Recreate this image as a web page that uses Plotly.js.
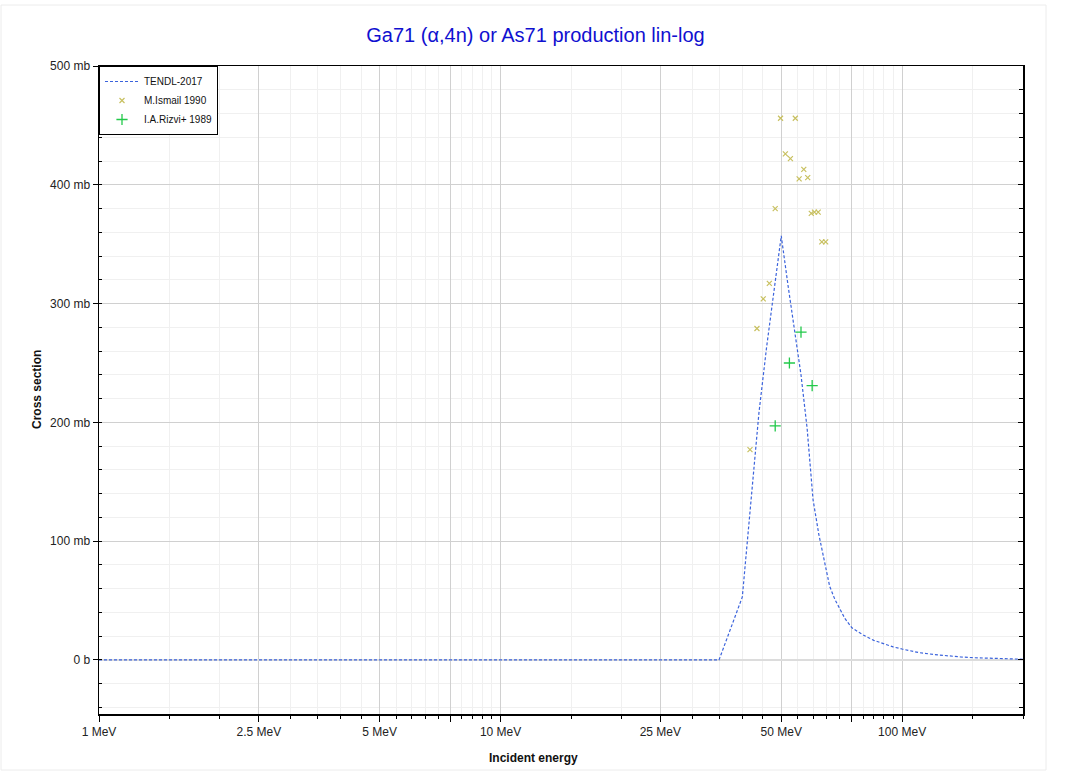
<!DOCTYPE html>
<html>
<head>
<meta charset="utf-8">
<script src="https://cdn.plot.ly/plotly-3.0.1.min.js"></script>
<style>
html,body{margin:0;padding:0;background:#fff;}
#chart{width:1071px;height:774px;}
</style>
</head>
<body>
<div id="chart"></div>
<script>
// ---- data ----
const tendlEnergy = [1, 5, 10, 20, 30, 35, 40, 42, 44, 46, 48, 50, 52, 54, 56, 58, 60, 62, 64, 66, 68, 70, 72, 75, 80, 85, 90, 95, 100, 110, 120, 130, 140, 150, 175, 200];
const tendlXS     = [0, 0, 0, 0, 0, 0, 53, 134, 208, 264, 313, 357, 315, 278, 240, 195, 135, 106, 82, 62, 51, 43, 35, 27, 21, 16.5, 13.5, 11, 9.2, 6.2, 4.6, 3.2, 2.5, 1.9, 1.2, 0.6];

const ismailEnergy = [41.8, 43.5, 45.1, 46.7, 48.3, 49.8, 51.2, 52.7, 54.2, 55.4, 56.9, 58.2, 59.4, 60.5, 61.8, 63.1, 64.5];
const ismailXS     = [177, 279, 304, 317, 380, 456, 426, 422, 456, 405, 413, 406, 376, 377, 377, 352, 352];

const rizviEnergy = [48.3, 52.4, 56.0, 59.7];
const rizviXS     = [197, 250, 276, 231];

const xMajorVals  = [1, 2.5, 5, 7.5, 10, 25, 50, 75, 100];
const xMajorText  = ['1 MeV', '2.5 MeV', '5 MeV', '', '10 MeV', '25 MeV', '50 MeV', '', '100 MeV'];
const xMinorMult  = [1.5, 2, 3, 3.5, 4, 4.5, 5.5, 6, 6.5, 7, 8, 8.5, 9, 9.5];
const xDecades    = [1, 10, 100];
const yTickVals   = [0, 100, 200, 300, 400, 500];
const yTickText   = ['0 b', '100 mb', '200 mb', '300 mb', '400 mb', '500 mb'];

// minor x tick positions built from multipliers × decades (within range)
const xMinorVals = [];
xDecades.forEach(d => xMinorMult.forEach(m => { if (m * d <= 200) xMinorVals.push(m * d); }));

const xRange = [0, Math.log10(200)];
const yRange = [-45.5, 500];

const traces = [
  {
    x: tendlEnergy, y: tendlXS, name: 'TENDL-2017', type: 'scatter', mode: 'lines',
    line: {color: '#3b63dc', width: 1.2, dash: '3px,2px'}
  },
  {
    x: ismailEnergy, y: ismailXS, name: 'M.Ismail 1990', type: 'scatter', mode: 'markers',
    marker: {symbol: 'x-thin', size: 5, color: '#c8c060', line: {color: '#c8c060', width: 1.2}}
  },
  {
    x: rizviEnergy, y: rizviXS, name: 'I.A.Rizvi+ 1989', type: 'scatter', mode: 'markers',
    marker: {symbol: 'cross-thin', size: 8, color: '#22c94a', line: {color: '#22c94a', width: 1.3}}
  },
  {
    x: [], y: [], yaxis: 'y2', showlegend: false, hoverinfo: 'skip', type: 'scatter', mode: 'markers'
  }
];

const layout = {
  width: 1071, height: 774,
  paper_bgcolor: '#ffffff', plot_bgcolor: '#ffffff',
  margin: {l: 99, r: 48, t: 66, b: 60},
  font: {family: 'Liberation Sans, Arial, sans-serif', size: 12, color: '#222'},
  title: {
    text: 'Ga71 (α,4n) or As71 production lin-log',
    font: {family: 'Liberation Sans, Arial, sans-serif', size: 20, color: '#1010d0'},
    x: 0.5, xref: 'container', y: 1 - 35 / 774, yref: 'container', yanchor: 'middle'
  },
  showlegend: true,
  legend: {
    x: 0, y: 1, xanchor: 'left', yanchor: 'top', xref: 'paper', yref: 'paper',
    bgcolor: '#ffffff', bordercolor: '#000000', borderwidth: 1,
    font: {family: 'Liberation Sans, Arial, sans-serif', size: 10, color: '#111'},
    tracegroupgap: 0, itemwidth: 34
  },
  xaxis: {
    type: 'log', range: xRange, autorange: false,
    tickmode: 'array', tickvals: xMajorVals, ticktext: xMajorText,
    ticks: 'outside', ticklen: 6, tickwidth: 1, tickcolor: '#000',
    showline: true, linecolor: '#000', linewidth: 1.5, mirror: true,
    showgrid: true, gridcolor: '#d0d0d0', gridwidth: 1,
    zeroline: false,
    tickfont: {size: 12, color: '#222'},
    minor: {tickmode: 'array', tickvals: xMinorVals, ticks: 'outside', ticklen: 3, tickcolor: '#000',
            showgrid: true, gridcolor: '#f0f0f0', gridwidth: 1}
  },
  yaxis: {
    range: yRange, autorange: false,
    tickmode: 'array', tickvals: yTickVals, ticktext: yTickText,
    ticks: 'outside', ticklen: 5, tickwidth: 1, tickcolor: '#000',
    showline: true, linecolor: '#000', linewidth: 1.5,
    showgrid: true, gridcolor: '#d0d0d0', gridwidth: 1,
    zeroline: true, zerolinecolor: '#dcdcdc', zerolinewidth: 2,
    tickfont: {size: 12, color: '#222'},
    minor: {dtick: 20, tick0: 0, ticks: 'inside', ticklen: 3, tickcolor: '#000',
            showgrid: true, gridcolor: '#f0f0f0', gridwidth: 1}
  },
  yaxis2: {
    overlaying: 'y', side: 'right', anchor: 'x',
    range: yRange, autorange: false,
    tickmode: 'array', tickvals: yTickVals, showticklabels: false,
    ticks: 'inside', ticklen: 5, tickwidth: 1, tickcolor: '#000',
    showline: true, linecolor: '#000', linewidth: 1.5,
    showgrid: false, zeroline: false,
    minor: {dtick: 20, tick0: 0, ticks: 'inside', ticklen: 4, tickcolor: '#000', showgrid: false}
  },
  annotations: [
    {
      text: '<b>Incident energy</b>', xref: 'paper', yref: 'paper',
      x: (533 - 99) / 924, y: (714 - 758) / 648, xanchor: 'center', yanchor: 'middle',
      showarrow: false, font: {family: 'Liberation Sans, Arial, sans-serif', size: 12, color: '#111'}
    },
    {
      text: '<b>Cross section</b>', xref: 'paper', yref: 'paper',
      x: (37 - 99) / 924, y: 0.5, xanchor: 'center', yanchor: 'middle', textangle: -90,
      showarrow: false, font: {family: 'Liberation Sans, Arial, sans-serif', size: 12, color: '#111'}
    }
  ],
  shapes: [
    {
      type: 'rect', xref: 'paper', yref: 'paper', layer: 'below',
      x0: (1 - 99) / 924, x1: (1046 - 99) / 924, y0: (714 - 770) / 648, y1: (714 - 5) / 648,
      line: {color: '#ececec', width: 1}, fillcolor: 'rgba(0,0,0,0)'
    }
  ]
};

Plotly.newPlot('chart', traces, layout, {displayModeBar: false, staticPlot: true});
</script>
</body>
</html>
